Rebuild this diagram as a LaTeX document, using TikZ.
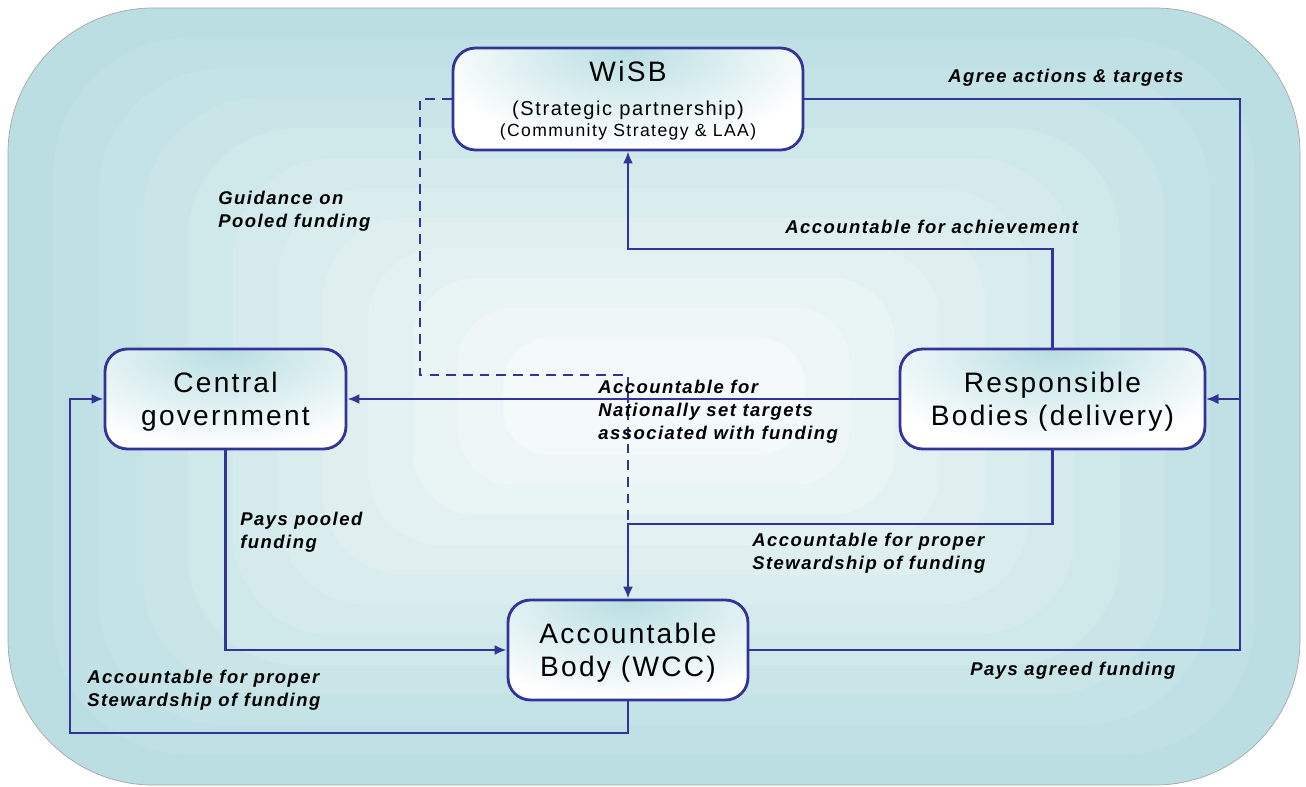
\documentclass[tikz,border=0pt]{standalone}
\usepackage{fontspec}
\setmainfont{Liberation Sans}
\newfontfamily\boxfont[LetterSpace=8]{Liberation Sans}
\newfontfamily\lblfont[LetterSpace=8]{Liberation Sans}
\usetikzlibrary{arrows.meta, positioning}

\definecolor{bgout}{RGB}{186,222,226}
\definecolor{bgin}{RGB}{244,249,249}
\definecolor{linkblue}{RGB}{51,51,153}
\definecolor{glow}{RGB}{184,222,226}

\begin{document}
\begin{tikzpicture}[x=0.02cm, y=-0.02cm, >={Latex[length=2.4mm, width=2mm]}]
  \tikzstyle{box}=[draw=linkblue, line width=1.6pt, fill=white, rounded corners=0.45cm,
    align=center, font=\boxfont\fontsize{16}{18.8}\selectfont, text depth=-1.5pt,
    path picture={\fill[inner color=glow, outer color=white]
      (path picture bounding box.north) ellipse (4cm and 2cm);}]
  \tikzstyle{link}=[draw=linkblue, line width=1.35pt]
  \tikzstyle{lbl}=[anchor=north west, inner sep=0pt, align=left,
    font=\lblfont\bfseries\itshape\fontsize{10.5}{13.1}\selectfont]

  \useasboundingbox (0,0) rectangle (1306,787);

  % background
  \fill[bgout, draw=gray!70, rounded corners=2.9cm] (8,8) rectangle (1300,785);
  \foreach \i [evaluate=\i as \p using int(\i*9),
               evaluate=\i as \r using 2.9-0.18*\i] in {1,...,11}
    \fill[bgin!\p!bgout, rounded corners=\r cm]
      ({8+\i*45},{8+\i*30}) rectangle ({1300-\i*45},{785-\i*30});

  % boxes
  \node[box, minimum width=7cm, minimum height=2.04cm, text depth=-2.5pt,
        font=\boxfont\fontsize{16}{14.5}\selectfont] (wisb) at (628,99)
    {WiSB\\[4.5pt]{\fontsize{11.4}{14}\selectfont (Strategic partnership)}\\[-2.5pt]
     {\fontsize{10}{12}\selectfont (Community Strategy \& LAA)}};
  \node[box, minimum width=4.82cm, minimum height=2cm] (cg) at (225.5,399)
    {Central\\government};
  \node[box, minimum width=6.1cm, minimum height=2cm] (rb) at (1052.5,399)
    {Responsible\\Bodies (delivery)};
  \node[box, minimum width=4.8cm, minimum height=2cm] (ab) at (628,650)
    {Accountable\\Body (WCC)};

  % turning points
  \coordinate (rr)  at (1240,399);
  \coordinate (ach) at (628,249);
  \coordinate (st)  at (628,524);
  \coordinate (gd)  at (420,375);
  \coordinate (lb)  at (70,733);

  % connectors
  \draw[link, ->] (wisb.east) -| (rr) -- (rb.east);
  \draw[link, ->] (ab.east) -| (rr) -- (rb.east);
  \draw[link, ->] (rb.north) |- (ach) -- (wisb.south);
  \draw[link, ->] (rb.west) -- (cg.east);
  \draw[link, ->] (rb.south) |- (st) -- (ab.north);
  \draw[link, dash pattern=on 5.5pt off 4pt] (wisb.west) -| (gd) -| (st);
  \draw[link, ->] (cg.south) |- (ab.west);
  \draw[link, ->] (ab.south) |- (lb) |- (cg.west);

  % labels
  \node[lbl] (l1) at (948,69)  {Agree actions \& targets};
  \node[lbl] (l2) at (218,191) {Guidance on\\Pooled funding};
  \node[lbl] (l3) at (785,220) {Accountable for achievement};
  \node[lbl] (l4) at (598,380) {Accountable for\\Nationally set targets\\associated with funding};
  \node[lbl] (l5) at (240,512) {Pays pooled\\funding};
  \node[lbl] (l6) at (752,533) {Accountable for proper\\Stewardship of funding};
  \node[lbl] (l7) at (970,662) {Pays agreed funding};
  \node[lbl] (l8) at (87,670)  {Accountable for proper\\Stewardship of funding};
\end{tikzpicture}
\end{document}
